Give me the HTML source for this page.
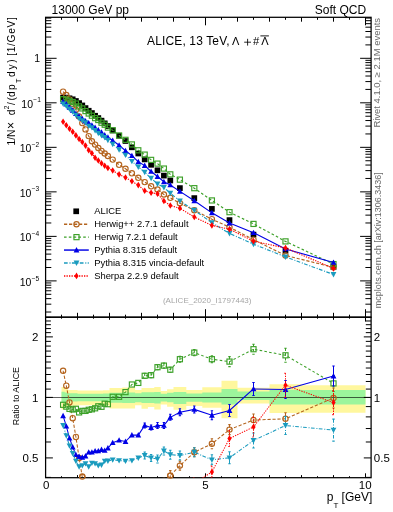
<!DOCTYPE html><html><head><meta charset="utf-8"><style>html,body{margin:0;padding:0;background:#fff;width:393px;height:512px;overflow:hidden}svg{display:block;will-change:transform}text{font-family:"Liberation Sans",sans-serif}</style></head><body>
<svg width="393" height="512" viewBox="0 0 393 512">
<defs><clipPath id="cu"><rect x="45.60" y="17.30" width="325.50" height="299.90"/></clipPath>
<clipPath id="cl"><rect x="45.60" y="317.20" width="325.50" height="160.50"/></clipPath></defs>
<text x="51.6" y="14.3" font-size="12" fill="#000">13000 GeV pp</text>
<text x="366.2" y="14.3" font-size="12" fill="#000" text-anchor="end">Soft QCD</text>
<text x="147.0" y="44.8" font-size="12" letter-spacing="0.14" fill="#000">ALICE, 13 TeV,</text>
<text x="235.6" y="44.9" font-size="11" font-family="Liberation Serif" text-anchor="middle" fill="#000">&#923;</text>
<path d="M244.2,42.2H251M247.6,38.8V45.6" stroke="#000" stroke-width="0.85" fill="none"/>
<text x="256.2" y="45.1" font-size="11.2" text-anchor="middle" fill="#000">#</text>
<text x="264.9" y="44.9" font-size="11" font-family="Liberation Serif" text-anchor="middle" fill="#000">&#923;</text>
<line x1="260.4" y1="35.9" x2="268.9" y2="35.9" stroke="#000" stroke-width="0.9"/>
<g clip-path="url(#cl)">
<path d="M61.50,387.10 64.70,387.10 L64.70,388.60 67.90,388.60 L67.90,389.90 71.10,389.90 L71.10,389.90 74.30,389.90 L74.30,389.90 77.50,389.90 L77.50,390.60 80.70,390.60 L80.70,390.60 83.90,390.60 L83.90,390.60 87.10,390.60 L87.10,390.60 90.30,390.60 L90.30,390.60 93.50,390.60 L93.50,390.60 96.70,390.60 L96.70,390.60 99.90,390.60 L99.90,390.60 103.10,390.60 L103.10,390.30 106.30,390.30 L106.30,390.30 109.50,390.30 L109.50,388.10 115.90,388.10 L115.90,388.10 122.30,388.10 L122.30,387.50 128.70,387.50 L128.70,387.50 135.10,387.50 L135.10,389.90 141.50,389.90 L141.50,388.10 147.90,388.10 L147.90,388.10 154.30,388.10 L154.30,386.90 160.70,386.90 L160.70,391.00 167.10,391.00 L167.10,389.20 173.50,389.20 L173.50,386.90 186.30,386.90 L186.30,390.00 202.30,390.00 L202.30,387.30 221.50,387.30 L221.50,380.70 237.50,380.70 L237.50,387.80 269.50,387.80 L269.50,384.30 301.50,384.30 L301.50,385.20 365.50,385.20 L365.50,412.70 301.50,412.70 L301.50,413.00 269.50,413.00 L269.50,403.60 237.50,403.60 L237.50,418.30 221.50,418.30 L221.50,407.70 202.30,407.70 L202.30,406.10 186.30,406.10 L186.30,409.70 173.50,409.70 L173.50,406.70 167.10,406.70 L167.10,404.40 160.70,404.40 L160.70,409.50 154.30,409.50 L154.30,407.00 147.90,407.00 L147.90,408.70 141.50,408.70 L141.50,405.30 135.10,405.30 L135.10,408.50 128.70,408.50 L128.70,408.50 122.30,408.50 L122.30,408.40 115.90,408.40 L115.90,408.40 109.50,408.40 L109.50,405.50 106.30,405.50 L106.30,405.50 103.10,405.50 L103.10,405.30 99.90,405.30 L99.90,405.30 96.70,405.30 L96.70,405.30 93.50,405.30 L93.50,405.30 90.30,405.30 L90.30,405.30 87.10,405.30 L87.10,405.30 83.90,405.30 L83.90,405.30 80.70,405.30 L80.70,405.30 77.50,405.30 L77.50,405.80 74.30,405.80 L74.30,405.80 71.10,405.80 L71.10,405.80 67.90,405.80 L67.90,407.00 64.70,407.00 L64.70,409.50 61.50,409.50Z" fill="#fff79e"/>
<path d="M61.50,391.70 64.70,391.70 L64.70,392.40 67.90,392.40 L67.90,393.20 71.10,393.20 L71.10,393.20 74.30,393.20 L74.30,393.20 77.50,393.20 L77.50,393.70 80.70,393.70 L80.70,393.70 83.90,393.70 L83.90,393.70 87.10,393.70 L87.10,393.70 90.30,393.70 L90.30,393.70 93.50,393.70 L93.50,393.70 96.70,393.70 L96.70,393.70 99.90,393.70 L99.90,393.70 103.10,393.70 L103.10,393.50 106.30,393.50 L106.30,393.50 109.50,393.50 L109.50,392.70 115.90,392.70 L115.90,392.70 122.30,392.70 L122.30,392.40 128.70,392.40 L128.70,392.40 135.10,392.40 L135.10,393.30 141.50,393.30 L141.50,392.30 147.90,392.30 L147.90,392.20 154.30,392.20 L154.30,392.00 160.70,392.00 L160.70,393.70 167.10,393.70 L167.10,392.70 173.50,392.70 L173.50,392.00 186.30,392.00 L186.30,393.50 202.30,393.50 L202.30,392.40 221.50,392.40 L221.50,389.10 237.50,389.10 L237.50,391.60 269.50,391.60 L269.50,389.80 301.50,389.80 L301.50,390.00 365.50,390.00 L365.50,404.50 301.50,404.50 L301.50,404.50 269.50,404.50 L269.50,400.00 237.50,400.00 L237.50,404.40 221.50,404.40 L221.50,402.60 202.30,402.60 L202.30,401.80 186.30,401.80 L186.30,403.90 173.50,403.90 L173.50,402.30 167.10,402.30 L167.10,401.40 160.70,401.40 L160.70,403.50 154.30,403.50 L154.30,402.90 147.90,402.90 L147.90,402.90 141.50,402.90 L141.50,402.20 135.10,402.20 L135.10,403.00 128.70,403.00 L128.70,403.00 122.30,403.00 L122.30,402.80 115.90,402.80 L115.90,402.80 109.50,402.80 L109.50,401.50 106.30,401.50 L106.30,401.50 103.10,401.50 L103.10,401.30 99.90,401.30 L99.90,401.30 96.70,401.30 L96.70,401.30 93.50,401.30 L93.50,401.30 90.30,401.30 L90.30,401.30 87.10,401.30 L87.10,401.30 83.90,401.30 L83.90,401.30 80.70,401.30 L80.70,401.30 77.50,401.30 L77.50,401.60 74.30,401.60 L74.30,401.60 71.10,401.60 L71.10,401.60 67.90,401.60 L67.90,402.30 64.70,402.30 L64.70,403.00 61.50,403.00Z" fill="#9cf59c"/>
<line x1="45.6" y1="397.4" x2="371.1" y2="397.4" stroke="#000" stroke-opacity="0.62" stroke-width="1.05"/>
</g>
<rect x="45.6" y="17.3" width="325.50" height="299.90" fill="none" stroke="#000" stroke-width="1.25"/>
<rect x="45.6" y="317.2" width="325.50" height="160.50" fill="none" stroke="#000" stroke-width="1.25"/>
<path d="M45.50,17.3v8.0 M45.50,317.2v-8.0 M45.50,317.2v4.4 M45.50,477.7v-4.4 M61.50,17.3v2.5 M61.50,317.2v-2.5 M61.50,317.2v1.5 M61.50,477.7v-1.5 M77.50,17.3v4.4 M77.50,317.2v-4.4 M77.50,317.2v2.6 M77.50,477.7v-2.6 M93.50,17.3v2.5 M93.50,317.2v-2.5 M93.50,317.2v1.5 M93.50,477.7v-1.5 M109.50,17.3v4.4 M109.50,317.2v-4.4 M109.50,317.2v2.6 M109.50,477.7v-2.6 M125.50,17.3v2.5 M125.50,317.2v-2.5 M125.50,317.2v1.5 M125.50,477.7v-1.5 M141.50,17.3v4.4 M141.50,317.2v-4.4 M141.50,317.2v2.6 M141.50,477.7v-2.6 M157.50,17.3v2.5 M157.50,317.2v-2.5 M157.50,317.2v1.5 M157.50,477.7v-1.5 M173.50,17.3v4.4 M173.50,317.2v-4.4 M173.50,317.2v2.6 M173.50,477.7v-2.6 M189.50,17.3v2.5 M189.50,317.2v-2.5 M189.50,317.2v1.5 M189.50,477.7v-1.5 M205.50,17.3v8.0 M205.50,317.2v-8.0 M205.50,317.2v4.4 M205.50,477.7v-4.4 M221.50,17.3v2.5 M221.50,317.2v-2.5 M221.50,317.2v1.5 M221.50,477.7v-1.5 M237.50,17.3v4.4 M237.50,317.2v-4.4 M237.50,317.2v2.6 M237.50,477.7v-2.6 M253.50,17.3v2.5 M253.50,317.2v-2.5 M253.50,317.2v1.5 M253.50,477.7v-1.5 M269.50,17.3v4.4 M269.50,317.2v-4.4 M269.50,317.2v2.6 M269.50,477.7v-2.6 M285.50,17.3v2.5 M285.50,317.2v-2.5 M285.50,317.2v1.5 M285.50,477.7v-1.5 M301.50,17.3v4.4 M301.50,317.2v-4.4 M301.50,317.2v2.6 M301.50,477.7v-2.6 M317.50,17.3v2.5 M317.50,317.2v-2.5 M317.50,317.2v1.5 M317.50,477.7v-1.5 M333.50,17.3v4.4 M333.50,317.2v-4.4 M333.50,317.2v2.6 M333.50,477.7v-2.6 M349.50,17.3v2.5 M349.50,317.2v-2.5 M349.50,317.2v1.5 M349.50,477.7v-1.5 M365.50,17.3v8.0 M365.50,317.2v-8.0 M365.50,317.2v4.4 M365.50,477.7v-4.4 M45.6,312.02h5.7 M371.1,312.02h-5.7 M45.6,304.18h5.7 M371.1,304.18h-5.7 M45.6,298.62h5.7 M371.1,298.62h-5.7 M45.6,294.30h5.7 M371.1,294.30h-5.7 M45.6,290.78h5.7 M371.1,290.78h-5.7 M45.6,287.80h5.7 M371.1,287.80h-5.7 M45.6,285.21h5.7 M371.1,285.21h-5.7 M45.6,282.94h5.7 M371.1,282.94h-5.7 M45.6,280.90h11.0 M371.1,280.90h-11.0 M45.6,267.50h5.7 M371.1,267.50h-5.7 M45.6,259.66h5.7 M371.1,259.66h-5.7 M45.6,254.10h5.7 M371.1,254.10h-5.7 M45.6,249.78h5.7 M371.1,249.78h-5.7 M45.6,246.26h5.7 M371.1,246.26h-5.7 M45.6,243.28h5.7 M371.1,243.28h-5.7 M45.6,240.69h5.7 M371.1,240.69h-5.7 M45.6,238.42h5.7 M371.1,238.42h-5.7 M45.6,236.38h11.0 M371.1,236.38h-11.0 M45.6,222.98h5.7 M371.1,222.98h-5.7 M45.6,215.14h5.7 M371.1,215.14h-5.7 M45.6,209.58h5.7 M371.1,209.58h-5.7 M45.6,205.26h5.7 M371.1,205.26h-5.7 M45.6,201.74h5.7 M371.1,201.74h-5.7 M45.6,198.76h5.7 M371.1,198.76h-5.7 M45.6,196.17h5.7 M371.1,196.17h-5.7 M45.6,193.90h5.7 M371.1,193.90h-5.7 M45.6,191.86h11.0 M371.1,191.86h-11.0 M45.6,178.46h5.7 M371.1,178.46h-5.7 M45.6,170.62h5.7 M371.1,170.62h-5.7 M45.6,165.06h5.7 M371.1,165.06h-5.7 M45.6,160.74h5.7 M371.1,160.74h-5.7 M45.6,157.22h5.7 M371.1,157.22h-5.7 M45.6,154.24h5.7 M371.1,154.24h-5.7 M45.6,151.65h5.7 M371.1,151.65h-5.7 M45.6,149.38h5.7 M371.1,149.38h-5.7 M45.6,147.34h11.0 M371.1,147.34h-11.0 M45.6,133.94h5.7 M371.1,133.94h-5.7 M45.6,126.10h5.7 M371.1,126.10h-5.7 M45.6,120.54h5.7 M371.1,120.54h-5.7 M45.6,116.22h5.7 M371.1,116.22h-5.7 M45.6,112.70h5.7 M371.1,112.70h-5.7 M45.6,109.72h5.7 M371.1,109.72h-5.7 M45.6,107.13h5.7 M371.1,107.13h-5.7 M45.6,104.86h5.7 M371.1,104.86h-5.7 M45.6,102.82h11.0 M371.1,102.82h-11.0 M45.6,89.42h5.7 M371.1,89.42h-5.7 M45.6,81.58h5.7 M371.1,81.58h-5.7 M45.6,76.02h5.7 M371.1,76.02h-5.7 M45.6,71.70h5.7 M371.1,71.70h-5.7 M45.6,68.18h5.7 M371.1,68.18h-5.7 M45.6,65.20h5.7 M371.1,65.20h-5.7 M45.6,62.61h5.7 M371.1,62.61h-5.7 M45.6,60.34h5.7 M371.1,60.34h-5.7 M45.6,58.30h11.0 M371.1,58.30h-11.0 M45.6,44.90h5.7 M371.1,44.90h-5.7 M45.6,37.06h5.7 M371.1,37.06h-5.7 M45.6,31.50h5.7 M371.1,31.50h-5.7 M45.6,27.18h5.7 M371.1,27.18h-5.7 M45.6,23.66h5.7 M371.1,23.66h-5.7 M45.6,20.68h5.7 M371.1,20.68h-5.7 M45.6,18.09h5.7 M371.1,18.09h-5.7 M45.6,477.39h5.3 M371.1,477.39h-5.3 M45.6,457.91h7.3 M371.1,457.91h-7.3 M45.6,441.99h5.3 M371.1,441.99h-5.3 M45.6,428.54h5.3 M371.1,428.54h-5.3 M45.6,416.88h5.3 M371.1,416.88h-5.3 M45.6,406.60h5.3 M371.1,406.60h-5.3 M45.6,397.40h7.3 M371.1,397.40h-7.3 M45.6,389.08h5.3 M371.1,389.08h-5.3 M45.6,381.48h5.3 M371.1,381.48h-5.3 M45.6,374.50h5.3 M371.1,374.50h-5.3 M45.6,368.03h5.3 M371.1,368.03h-5.3 M45.6,362.01h5.3 M371.1,362.01h-5.3 M45.6,356.37h5.3 M371.1,356.37h-5.3 M45.6,351.08h5.3 M371.1,351.08h-5.3 M45.6,346.09h5.3 M371.1,346.09h-5.3 M45.6,341.37h5.3 M371.1,341.37h-5.3 M45.6,336.89h7.3 M371.1,336.89h-7.3 M45.6,332.63h5.3 M371.1,332.63h-5.3 M45.6,328.57h5.3 M371.1,328.57h-5.3 M45.6,324.69h5.3 M371.1,324.69h-5.3 M45.6,320.98h5.3 M371.1,320.98h-5.3 M45.6,317.41h5.3 M371.1,317.41h-5.3" stroke="#000" stroke-width="1" fill="none"/>
<text x="365.20" y="488.6" font-size="11.5" text-anchor="middle">10</text>
<text x="46.10" y="488.9" font-size="11.5" text-anchor="middle">0</text>
<text x="205.50" y="488.8" font-size="11.5" text-anchor="middle">5</text>
<text x="372.3" y="501.2" font-size="12" text-anchor="end">p<tspan font-size="8" dy="6.4">T</tspan><tspan dy="-6.4"> [GeV]</tspan></text>
<text x="40.2" y="62.4" font-size="10.5" text-anchor="end">1</text>
<text x="33.00" y="107.82" font-size="10.5" text-anchor="end">10</text>
<text x="33.30" y="102.42" font-size="6.6">&#8722;1</text>
<text x="31.40" y="152.34" font-size="10.5" text-anchor="end">10</text>
<text x="31.70" y="146.94" font-size="6.6">&#8722;2</text>
<text x="31.40" y="196.86" font-size="10.5" text-anchor="end">10</text>
<text x="31.70" y="191.46" font-size="6.6">&#8722;3</text>
<text x="31.40" y="241.38" font-size="10.5" text-anchor="end">10</text>
<text x="31.70" y="235.98" font-size="6.6">&#8722;4</text>
<text x="31.40" y="285.90" font-size="10.5" text-anchor="end">10</text>
<text x="31.70" y="280.50" font-size="6.6">&#8722;5</text>
<text x="38.4" y="341.39" font-size="11.5" text-anchor="end">2</text>
<text x="373.8" y="341.09" font-size="11.5">2</text>
<text x="38.4" y="401.90" font-size="11.5" text-anchor="end">1</text>
<text x="373.8" y="401.60" font-size="11.5">1</text>
<text x="38.4" y="462.41" font-size="11.5" text-anchor="end">0.5</text>
<text x="373.8" y="462.11" font-size="11.5">0.5</text>
<g transform="translate(15.1,145.6) rotate(-90)">
<text x="0.0" y="0" font-size="10.3">1/N</text>
<text x="16.6" y="0.3" font-size="12.2">&#215;</text>
<text x="30.3" y="0" font-size="10.3">d</text>
<text x="36.3" y="-5.8" font-size="6.6">2</text>
<text x="40.6" y="0" font-size="10.3">/</text>
<text x="45.0" y="0" font-size="10.3">(</text>
<text x="48.7" y="0" font-size="10.3">d</text>
<text x="55.5" y="0" font-size="10.3">p</text>
<text x="62.6" y="5.9" font-size="7.2">T</text>
<text x="68.7" y="0" font-size="10.3" textLength="17.6" lengthAdjust="spacing">dy)</text>
<text x="89.9" y="0" font-size="10.3" textLength="38.5" lengthAdjust="spacing">[1/GeV]</text>
</g>
<text transform="translate(18.9,425.2) rotate(-90)" font-size="8.9" letter-spacing="0">Ratio to ALICE</text>
<text transform="translate(380,127.6) rotate(-90)" font-size="8.6" fill="#6a6a6a" textLength="109.6" lengthAdjust="spacingAndGlyphs">Rivet 4.1.0, &#8805; 2.1M events</text>
<text transform="translate(380.8,308.2) rotate(-90)" font-size="9" fill="#6a6a6a" textLength="136" lengthAdjust="spacingAndGlyphs">mcplots.cern.ch [arXiv:1306.3436]</text>
<text x="207.2" y="302.5" font-size="8" fill="#a6a6a6" text-anchor="middle">(ALICE_2020_I1797443)</text>
<g clip-path="url(#cu)">
<rect x="60.25" y="94.75" width="5.7" height="5.7" fill="#000"/>
<rect x="63.45" y="94.75" width="5.7" height="5.7" fill="#000"/>
<rect x="66.65" y="95.45" width="5.7" height="5.7" fill="#000"/>
<rect x="69.85" y="96.45" width="5.7" height="5.7" fill="#000"/>
<rect x="73.05" y="98.15" width="5.7" height="5.7" fill="#000"/>
<rect x="76.25" y="100.25" width="5.7" height="5.7" fill="#000"/>
<rect x="79.45" y="102.60" width="5.7" height="5.7" fill="#000"/>
<rect x="82.65" y="105.25" width="5.7" height="5.7" fill="#000"/>
<rect x="85.85" y="107.90" width="5.7" height="5.7" fill="#000"/>
<rect x="89.05" y="110.20" width="5.7" height="5.7" fill="#000"/>
<rect x="92.25" y="112.90" width="5.7" height="5.7" fill="#000"/>
<rect x="95.45" y="115.20" width="5.7" height="5.7" fill="#000"/>
<rect x="98.65" y="117.80" width="5.7" height="5.7" fill="#000"/>
<rect x="101.85" y="120.50" width="5.7" height="5.7" fill="#000"/>
<rect x="105.05" y="123.20" width="5.7" height="5.7" fill="#000"/>
<rect x="109.85" y="127.55" width="5.7" height="5.7" fill="#000"/>
<rect x="116.25" y="132.85" width="5.7" height="5.7" fill="#000"/>
<rect x="122.65" y="138.15" width="5.7" height="5.7" fill="#000"/>
<rect x="129.05" y="144.45" width="5.7" height="5.7" fill="#000"/>
<rect x="135.45" y="150.65" width="5.7" height="5.7" fill="#000"/>
<rect x="141.85" y="156.55" width="5.7" height="5.7" fill="#000"/>
<rect x="148.25" y="161.95" width="5.7" height="5.7" fill="#000"/>
<rect x="154.65" y="167.45" width="5.7" height="5.7" fill="#000"/>
<rect x="161.05" y="172.75" width="5.7" height="5.7" fill="#000"/>
<rect x="167.45" y="177.65" width="5.7" height="5.7" fill="#000"/>
<rect x="177.05" y="185.25" width="5.7" height="5.7" fill="#000"/>
<rect x="191.45" y="195.25" width="5.7" height="5.7" fill="#000"/>
<rect x="209.05" y="206.05" width="5.7" height="5.7" fill="#000"/>
<rect x="226.65" y="217.25" width="5.7" height="5.7" fill="#000"/>
<rect x="250.65" y="231.75" width="5.7" height="5.7" fill="#000"/>
<rect x="282.65" y="247.85" width="5.7" height="5.7" fill="#000"/>
<rect x="330.65" y="264.35" width="5.7" height="5.7" fill="#000"/>
<polyline points="63.10,91.70 66.30,95.00 69.50,99.40 72.70,103.90 75.90,109.75 79.10,116.50 82.30,123.10 85.50,129.40 88.70,136.10 91.90,141.20 95.10,144.60 98.30,148.00 101.50,150.90 104.70,153.50 107.90,156.00 112.70,159.60 119.10,164.80 125.50,168.70 131.90,173.30 138.30,177.80 144.70,182.10 151.10,186.30 157.50,189.50 163.90,194.50 170.30,197.82 179.90,203.21 194.30,210.24 211.90,219.18 229.50,227.23 253.50,239.61 285.50,255.44 333.50,267.33" fill="none" stroke="#b4641e" stroke-width="1.15" stroke-dasharray="3.2,1.8"/>
<circle cx="63.10" cy="91.70" r="2.65" fill="none" stroke="#b4641e" stroke-width="1.15"/>
<circle cx="66.30" cy="95.00" r="2.65" fill="none" stroke="#b4641e" stroke-width="1.15"/>
<circle cx="69.50" cy="99.40" r="2.65" fill="none" stroke="#b4641e" stroke-width="1.15"/>
<circle cx="72.70" cy="103.90" r="2.65" fill="none" stroke="#b4641e" stroke-width="1.15"/>
<circle cx="75.90" cy="109.75" r="2.65" fill="none" stroke="#b4641e" stroke-width="1.15"/>
<circle cx="79.10" cy="116.50" r="2.65" fill="none" stroke="#b4641e" stroke-width="1.15"/>
<circle cx="82.30" cy="123.10" r="2.65" fill="none" stroke="#b4641e" stroke-width="1.15"/>
<circle cx="85.50" cy="129.40" r="2.65" fill="none" stroke="#b4641e" stroke-width="1.15"/>
<circle cx="88.70" cy="136.10" r="2.65" fill="none" stroke="#b4641e" stroke-width="1.15"/>
<circle cx="91.90" cy="141.20" r="2.65" fill="none" stroke="#b4641e" stroke-width="1.15"/>
<circle cx="95.10" cy="144.60" r="2.65" fill="none" stroke="#b4641e" stroke-width="1.15"/>
<circle cx="98.30" cy="148.00" r="2.65" fill="none" stroke="#b4641e" stroke-width="1.15"/>
<circle cx="101.50" cy="150.90" r="2.65" fill="none" stroke="#b4641e" stroke-width="1.15"/>
<circle cx="104.70" cy="153.50" r="2.65" fill="none" stroke="#b4641e" stroke-width="1.15"/>
<circle cx="107.90" cy="156.00" r="2.65" fill="none" stroke="#b4641e" stroke-width="1.15"/>
<circle cx="112.70" cy="159.60" r="2.65" fill="none" stroke="#b4641e" stroke-width="1.15"/>
<circle cx="119.10" cy="164.80" r="2.65" fill="none" stroke="#b4641e" stroke-width="1.15"/>
<circle cx="125.50" cy="168.70" r="2.65" fill="none" stroke="#b4641e" stroke-width="1.15"/>
<circle cx="131.90" cy="173.30" r="2.65" fill="none" stroke="#b4641e" stroke-width="1.15"/>
<circle cx="138.30" cy="177.80" r="2.65" fill="none" stroke="#b4641e" stroke-width="1.15"/>
<circle cx="144.70" cy="182.10" r="2.65" fill="none" stroke="#b4641e" stroke-width="1.15"/>
<circle cx="151.10" cy="186.30" r="2.65" fill="none" stroke="#b4641e" stroke-width="1.15"/>
<circle cx="157.50" cy="189.50" r="2.65" fill="none" stroke="#b4641e" stroke-width="1.15"/>
<circle cx="163.90" cy="194.50" r="2.65" fill="none" stroke="#b4641e" stroke-width="1.15"/>
<circle cx="170.30" cy="197.82" r="2.65" fill="none" stroke="#b4641e" stroke-width="1.15"/>
<circle cx="179.90" cy="203.21" r="2.65" fill="none" stroke="#b4641e" stroke-width="1.15"/>
<circle cx="194.30" cy="210.24" r="2.65" fill="none" stroke="#b4641e" stroke-width="1.15"/>
<circle cx="211.90" cy="219.18" r="2.65" fill="none" stroke="#b4641e" stroke-width="1.15"/>
<circle cx="229.50" cy="227.23" r="2.65" fill="none" stroke="#b4641e" stroke-width="1.15"/>
<circle cx="253.50" cy="239.61" r="2.65" fill="none" stroke="#b4641e" stroke-width="1.15"/>
<circle cx="285.50" cy="255.44" r="2.65" fill="none" stroke="#b4641e" stroke-width="1.15"/>
<circle cx="333.50" cy="267.33" r="2.65" fill="none" stroke="#b4641e" stroke-width="1.15"/>
<polyline points="63.10,99.24 66.30,99.64 69.50,100.85 72.70,101.98 75.90,103.53 79.10,106.42 82.30,108.44 85.50,111.09 88.70,113.50 91.90,115.69 95.10,118.16 98.30,120.02 101.50,122.73 104.70,124.75 107.90,127.56 112.70,130.27 119.10,135.57 125.50,139.83 131.90,144.44 138.30,150.29 144.70,154.62 151.10,159.88 157.50,163.61 163.90,168.56 170.30,174.36 179.90,179.64 194.30,188.18 211.90,200.44 229.50,212.17 253.50,223.92 285.50,241.38 333.50,264.10" fill="none" stroke="#3ca028" stroke-width="1.15" stroke-dasharray="2.6,2.2"/>
<rect x="60.55" y="96.69" width="5.1" height="5.1" fill="none" stroke="#3ca028" stroke-width="1.15"/>
<rect x="63.75" y="97.09" width="5.1" height="5.1" fill="none" stroke="#3ca028" stroke-width="1.15"/>
<rect x="66.95" y="98.30" width="5.1" height="5.1" fill="none" stroke="#3ca028" stroke-width="1.15"/>
<rect x="70.15" y="99.43" width="5.1" height="5.1" fill="none" stroke="#3ca028" stroke-width="1.15"/>
<rect x="73.35" y="100.98" width="5.1" height="5.1" fill="none" stroke="#3ca028" stroke-width="1.15"/>
<rect x="76.55" y="103.87" width="5.1" height="5.1" fill="none" stroke="#3ca028" stroke-width="1.15"/>
<rect x="79.75" y="105.89" width="5.1" height="5.1" fill="none" stroke="#3ca028" stroke-width="1.15"/>
<rect x="82.95" y="108.54" width="5.1" height="5.1" fill="none" stroke="#3ca028" stroke-width="1.15"/>
<rect x="86.15" y="110.95" width="5.1" height="5.1" fill="none" stroke="#3ca028" stroke-width="1.15"/>
<rect x="89.35" y="113.14" width="5.1" height="5.1" fill="none" stroke="#3ca028" stroke-width="1.15"/>
<rect x="92.55" y="115.61" width="5.1" height="5.1" fill="none" stroke="#3ca028" stroke-width="1.15"/>
<rect x="95.75" y="117.47" width="5.1" height="5.1" fill="none" stroke="#3ca028" stroke-width="1.15"/>
<rect x="98.95" y="120.18" width="5.1" height="5.1" fill="none" stroke="#3ca028" stroke-width="1.15"/>
<rect x="102.15" y="122.20" width="5.1" height="5.1" fill="none" stroke="#3ca028" stroke-width="1.15"/>
<rect x="105.35" y="125.01" width="5.1" height="5.1" fill="none" stroke="#3ca028" stroke-width="1.15"/>
<rect x="110.15" y="127.72" width="5.1" height="5.1" fill="none" stroke="#3ca028" stroke-width="1.15"/>
<rect x="116.55" y="133.02" width="5.1" height="5.1" fill="none" stroke="#3ca028" stroke-width="1.15"/>
<rect x="122.95" y="137.28" width="5.1" height="5.1" fill="none" stroke="#3ca028" stroke-width="1.15"/>
<rect x="129.35" y="141.89" width="5.1" height="5.1" fill="none" stroke="#3ca028" stroke-width="1.15"/>
<rect x="135.75" y="147.74" width="5.1" height="5.1" fill="none" stroke="#3ca028" stroke-width="1.15"/>
<rect x="142.15" y="152.07" width="5.1" height="5.1" fill="none" stroke="#3ca028" stroke-width="1.15"/>
<rect x="148.55" y="157.33" width="5.1" height="5.1" fill="none" stroke="#3ca028" stroke-width="1.15"/>
<rect x="154.95" y="161.06" width="5.1" height="5.1" fill="none" stroke="#3ca028" stroke-width="1.15"/>
<rect x="161.35" y="166.01" width="5.1" height="5.1" fill="none" stroke="#3ca028" stroke-width="1.15"/>
<rect x="167.75" y="171.81" width="5.1" height="5.1" fill="none" stroke="#3ca028" stroke-width="1.15"/>
<rect x="177.35" y="177.09" width="5.1" height="5.1" fill="none" stroke="#3ca028" stroke-width="1.15"/>
<rect x="191.75" y="185.63" width="5.1" height="5.1" fill="none" stroke="#3ca028" stroke-width="1.15"/>
<rect x="209.35" y="197.89" width="5.1" height="5.1" fill="none" stroke="#3ca028" stroke-width="1.15"/>
<rect x="226.95" y="209.62" width="5.1" height="5.1" fill="none" stroke="#3ca028" stroke-width="1.15"/>
<rect x="250.95" y="221.37" width="5.1" height="5.1" fill="none" stroke="#3ca028" stroke-width="1.15"/>
<rect x="282.95" y="238.83" width="5.1" height="5.1" fill="none" stroke="#3ca028" stroke-width="1.15"/>
<rect x="330.95" y="261.55" width="5.1" height="5.1" fill="none" stroke="#3ca028" stroke-width="1.15"/>
<polyline points="63.10,101.68 66.30,103.98 69.50,107.34 72.70,110.29 75.90,113.69 79.10,116.19 82.30,118.72 85.50,121.08 88.70,122.89 91.90,125.19 95.10,127.60 98.30,129.90 101.50,132.21 104.70,135.09 107.90,137.26 112.70,140.43 119.10,145.18 125.50,150.77 131.90,155.65 138.30,161.85 144.70,165.60 151.10,171.47 157.50,176.50 163.90,181.80 170.30,184.91 179.90,191.38 194.30,200.76 211.90,212.86 229.50,223.00 253.50,232.72 285.50,248.95 333.50,262.46" fill="none" stroke="#0000e6" stroke-width="1.15"/>
<path d="M63.10,98.68 L66.00,104.08 L60.20,104.08 Z" fill="#0000e6"/>
<path d="M66.30,100.98 L69.20,106.38 L63.40,106.38 Z" fill="#0000e6"/>
<path d="M69.50,104.34 L72.40,109.74 L66.60,109.74 Z" fill="#0000e6"/>
<path d="M72.70,107.29 L75.60,112.69 L69.80,112.69 Z" fill="#0000e6"/>
<path d="M75.90,110.69 L78.80,116.09 L73.00,116.09 Z" fill="#0000e6"/>
<path d="M79.10,113.19 L82.00,118.59 L76.20,118.59 Z" fill="#0000e6"/>
<path d="M82.30,115.72 L85.20,121.12 L79.40,121.12 Z" fill="#0000e6"/>
<path d="M85.50,118.08 L88.40,123.48 L82.60,123.48 Z" fill="#0000e6"/>
<path d="M88.70,119.89 L91.60,125.29 L85.80,125.29 Z" fill="#0000e6"/>
<path d="M91.90,122.19 L94.80,127.59 L89.00,127.59 Z" fill="#0000e6"/>
<path d="M95.10,124.60 L98.00,130.00 L92.20,130.00 Z" fill="#0000e6"/>
<path d="M98.30,126.90 L101.20,132.30 L95.40,132.30 Z" fill="#0000e6"/>
<path d="M101.50,129.21 L104.40,134.61 L98.60,134.61 Z" fill="#0000e6"/>
<path d="M104.70,132.09 L107.60,137.49 L101.80,137.49 Z" fill="#0000e6"/>
<path d="M107.90,134.26 L110.80,139.66 L105.00,139.66 Z" fill="#0000e6"/>
<path d="M112.70,137.43 L115.60,142.83 L109.80,142.83 Z" fill="#0000e6"/>
<path d="M119.10,142.18 L122.00,147.58 L116.20,147.58 Z" fill="#0000e6"/>
<path d="M125.50,147.77 L128.40,153.17 L122.60,153.17 Z" fill="#0000e6"/>
<path d="M131.90,152.65 L134.80,158.05 L129.00,158.05 Z" fill="#0000e6"/>
<path d="M138.30,158.85 L141.20,164.25 L135.40,164.25 Z" fill="#0000e6"/>
<path d="M144.70,162.60 L147.60,168.00 L141.80,168.00 Z" fill="#0000e6"/>
<path d="M151.10,168.47 L154.00,173.87 L148.20,173.87 Z" fill="#0000e6"/>
<path d="M157.50,173.50 L160.40,178.90 L154.60,178.90 Z" fill="#0000e6"/>
<path d="M163.90,178.80 L166.80,184.20 L161.00,184.20 Z" fill="#0000e6"/>
<path d="M170.30,181.91 L173.20,187.31 L167.40,187.31 Z" fill="#0000e6"/>
<path d="M179.90,188.38 L182.80,193.78 L177.00,193.78 Z" fill="#0000e6"/>
<path d="M194.30,197.76 L197.20,203.16 L191.40,203.16 Z" fill="#0000e6"/>
<path d="M211.90,209.86 L214.80,215.26 L209.00,215.26 Z" fill="#0000e6"/>
<path d="M229.50,220.00 L232.40,225.40 L226.60,225.40 Z" fill="#0000e6"/>
<path d="M253.50,229.72 L256.40,235.12 L250.60,235.12 Z" fill="#0000e6"/>
<path d="M285.50,245.95 L288.40,251.35 L282.60,251.35 Z" fill="#0000e6"/>
<path d="M333.50,259.46 L336.40,264.86 L330.60,264.86 Z" fill="#0000e6"/>
<polyline points="63.10,103.80 66.30,106.06 69.50,109.02 72.70,111.70 75.90,115.11 79.10,118.45 82.30,120.56 85.50,122.76 88.70,126.10 91.90,127.60 95.10,130.41 98.30,133.16 101.50,135.60 104.70,137.46 107.90,140.14 112.70,144.22 119.10,149.70 125.50,155.11 131.90,161.30 138.30,166.92 144.70,172.27 151.10,178.22 157.50,183.94 163.90,187.45 170.30,193.19 179.90,200.97 194.30,210.24 211.90,222.72 229.50,233.48 253.50,244.15 285.50,256.92 333.50,274.44" fill="none" stroke="#1a9bbe" stroke-width="1.15" stroke-dasharray="3.7,1.8,1.0,1.4"/>
<path d="M63.10,106.80 L66.00,101.40 L60.20,101.40 Z" fill="#1a9bbe"/>
<path d="M66.30,109.06 L69.20,103.66 L63.40,103.66 Z" fill="#1a9bbe"/>
<path d="M69.50,112.02 L72.40,106.62 L66.60,106.62 Z" fill="#1a9bbe"/>
<path d="M72.70,114.70 L75.60,109.30 L69.80,109.30 Z" fill="#1a9bbe"/>
<path d="M75.90,118.11 L78.80,112.71 L73.00,112.71 Z" fill="#1a9bbe"/>
<path d="M79.10,121.45 L82.00,116.05 L76.20,116.05 Z" fill="#1a9bbe"/>
<path d="M82.30,123.56 L85.20,118.16 L79.40,118.16 Z" fill="#1a9bbe"/>
<path d="M85.50,125.76 L88.40,120.36 L82.60,120.36 Z" fill="#1a9bbe"/>
<path d="M88.70,129.10 L91.60,123.70 L85.80,123.70 Z" fill="#1a9bbe"/>
<path d="M91.90,130.60 L94.80,125.20 L89.00,125.20 Z" fill="#1a9bbe"/>
<path d="M95.10,133.41 L98.00,128.01 L92.20,128.01 Z" fill="#1a9bbe"/>
<path d="M98.30,136.16 L101.20,130.76 L95.40,130.76 Z" fill="#1a9bbe"/>
<path d="M101.50,138.60 L104.40,133.20 L98.60,133.20 Z" fill="#1a9bbe"/>
<path d="M104.70,140.46 L107.60,135.06 L101.80,135.06 Z" fill="#1a9bbe"/>
<path d="M107.90,143.14 L110.80,137.74 L105.00,137.74 Z" fill="#1a9bbe"/>
<path d="M112.70,147.22 L115.60,141.82 L109.80,141.82 Z" fill="#1a9bbe"/>
<path d="M119.10,152.70 L122.00,147.30 L116.20,147.30 Z" fill="#1a9bbe"/>
<path d="M125.50,158.11 L128.40,152.71 L122.60,152.71 Z" fill="#1a9bbe"/>
<path d="M131.90,164.30 L134.80,158.90 L129.00,158.90 Z" fill="#1a9bbe"/>
<path d="M138.30,169.92 L141.20,164.52 L135.40,164.52 Z" fill="#1a9bbe"/>
<path d="M144.70,175.27 L147.60,169.87 L141.80,169.87 Z" fill="#1a9bbe"/>
<path d="M151.10,181.22 L154.00,175.82 L148.20,175.82 Z" fill="#1a9bbe"/>
<path d="M157.50,186.94 L160.40,181.54 L154.60,181.54 Z" fill="#1a9bbe"/>
<path d="M163.90,190.45 L166.80,185.05 L161.00,185.05 Z" fill="#1a9bbe"/>
<path d="M170.30,196.19 L173.20,190.79 L167.40,190.79 Z" fill="#1a9bbe"/>
<path d="M179.90,203.97 L182.80,198.57 L177.00,198.57 Z" fill="#1a9bbe"/>
<path d="M194.30,213.24 L197.20,207.84 L191.40,207.84 Z" fill="#1a9bbe"/>
<path d="M211.90,225.72 L214.80,220.32 L209.00,220.32 Z" fill="#1a9bbe"/>
<path d="M229.50,236.48 L232.40,231.08 L226.60,231.08 Z" fill="#1a9bbe"/>
<path d="M253.50,247.15 L256.40,241.75 L250.60,241.75 Z" fill="#1a9bbe"/>
<path d="M285.50,259.92 L288.40,254.52 L282.60,254.52 Z" fill="#1a9bbe"/>
<path d="M333.50,277.44 L336.40,272.04 L330.60,272.04 Z" fill="#1a9bbe"/>
<polyline points="63.10,121.70 66.30,125.20 69.50,128.80 72.70,131.80 75.90,135.40 79.10,139.00 82.30,142.00 85.50,145.60 88.70,150.20 91.90,153.20 95.10,157.80 98.30,160.50 101.50,163.20 104.70,165.80 107.90,168.00 112.70,170.50 119.10,174.40 125.50,177.50 131.90,181.30 138.30,185.10 144.70,190.80 151.10,192.80 157.50,193.70 163.90,201.00 170.30,205.50 179.90,208.30 194.30,217.06 211.90,225.42 229.50,229.20 253.50,241.16 285.50,248.00 333.50,268.35" fill="none" stroke="#ff0000" stroke-width="1.15" stroke-dasharray="1.3,1.2"/>
<path d="M63.10,118.40 L65.20,121.70 L63.10,125.00 L61.00,121.70 Z" fill="#ff0000"/>
<path d="M66.30,121.90 L68.40,125.20 L66.30,128.50 L64.20,125.20 Z" fill="#ff0000"/>
<path d="M69.50,125.50 L71.60,128.80 L69.50,132.10 L67.40,128.80 Z" fill="#ff0000"/>
<path d="M72.70,128.50 L74.80,131.80 L72.70,135.10 L70.60,131.80 Z" fill="#ff0000"/>
<path d="M75.90,132.10 L78.00,135.40 L75.90,138.70 L73.80,135.40 Z" fill="#ff0000"/>
<path d="M79.10,135.70 L81.20,139.00 L79.10,142.30 L77.00,139.00 Z" fill="#ff0000"/>
<path d="M82.30,138.70 L84.40,142.00 L82.30,145.30 L80.20,142.00 Z" fill="#ff0000"/>
<path d="M85.50,142.30 L87.60,145.60 L85.50,148.90 L83.40,145.60 Z" fill="#ff0000"/>
<path d="M88.70,146.90 L90.80,150.20 L88.70,153.50 L86.60,150.20 Z" fill="#ff0000"/>
<path d="M91.90,149.90 L94.00,153.20 L91.90,156.50 L89.80,153.20 Z" fill="#ff0000"/>
<path d="M95.10,154.50 L97.20,157.80 L95.10,161.10 L93.00,157.80 Z" fill="#ff0000"/>
<path d="M98.30,157.20 L100.40,160.50 L98.30,163.80 L96.20,160.50 Z" fill="#ff0000"/>
<path d="M101.50,159.90 L103.60,163.20 L101.50,166.50 L99.40,163.20 Z" fill="#ff0000"/>
<path d="M104.70,162.50 L106.80,165.80 L104.70,169.10 L102.60,165.80 Z" fill="#ff0000"/>
<path d="M107.90,164.70 L110.00,168.00 L107.90,171.30 L105.80,168.00 Z" fill="#ff0000"/>
<path d="M112.70,167.20 L114.80,170.50 L112.70,173.80 L110.60,170.50 Z" fill="#ff0000"/>
<path d="M119.10,171.10 L121.20,174.40 L119.10,177.70 L117.00,174.40 Z" fill="#ff0000"/>
<path d="M125.50,174.20 L127.60,177.50 L125.50,180.80 L123.40,177.50 Z" fill="#ff0000"/>
<path d="M131.90,178.00 L134.00,181.30 L131.90,184.60 L129.80,181.30 Z" fill="#ff0000"/>
<path d="M138.30,181.80 L140.40,185.10 L138.30,188.40 L136.20,185.10 Z" fill="#ff0000"/>
<path d="M144.70,187.50 L146.80,190.80 L144.70,194.10 L142.60,190.80 Z" fill="#ff0000"/>
<path d="M151.10,189.50 L153.20,192.80 L151.10,196.10 L149.00,192.80 Z" fill="#ff0000"/>
<path d="M157.50,190.40 L159.60,193.70 L157.50,197.00 L155.40,193.70 Z" fill="#ff0000"/>
<path d="M163.90,197.70 L166.00,201.00 L163.90,204.30 L161.80,201.00 Z" fill="#ff0000"/>
<path d="M170.30,202.20 L172.40,205.50 L170.30,208.80 L168.20,205.50 Z" fill="#ff0000"/>
<path d="M179.90,205.00 L182.00,208.30 L179.90,211.60 L177.80,208.30 Z" fill="#ff0000"/>
<path d="M194.30,213.76 L196.40,217.06 L194.30,220.36 L192.20,217.06 Z" fill="#ff0000"/>
<path d="M211.90,222.12 L214.00,225.42 L211.90,228.72 L209.80,225.42 Z" fill="#ff0000"/>
<path d="M229.50,225.90 L231.60,229.20 L229.50,232.50 L227.40,229.20 Z" fill="#ff0000"/>
<path d="M253.50,237.86 L255.60,241.16 L253.50,244.46 L251.40,241.16 Z" fill="#ff0000"/>
<path d="M285.50,244.70 L287.60,248.00 L285.50,251.30 L283.40,248.00 Z" fill="#ff0000"/>
<path d="M333.50,265.05 L335.60,268.35 L333.50,271.65 L331.40,268.35 Z" fill="#ff0000"/>
</g>
<g clip-path="url(#cl)">
<polyline points="63.10,370.76 66.30,385.66 69.50,402.37 72.70,418.17 75.90,436.90 79.10,457.90 82.30,477.09 85.50,493.57 88.70,511.85 91.90,524.49 95.10,527.65 98.30,532.62 101.50,533.97 104.70,533.52 107.90,532.62 112.70,529.23 119.10,528.78 125.50,522.46 131.90,514.79 138.30,507.11 144.70,499.89 151.10,494.47 157.50,484.08 163.90,482.73 170.30,475.60 179.90,465.60 194.30,452.20 211.90,443.80 229.50,429.60 253.50,420.00 285.50,418.80 333.50,398.00" fill="none" stroke="#b4641e" stroke-width="1.05" stroke-dasharray="3.2,1.8"/>
<path d="M144.70,496.39V503.39M143.50,496.39h2.4M143.50,503.39h2.4 M151.10,490.97V497.97M149.90,490.97h2.4M149.90,497.97h2.4 M157.50,480.08V488.08M156.30,480.08h2.4M156.30,488.08h2.4 M163.90,478.23V487.23M162.70,478.23h2.4M162.70,487.23h2.4 M170.30,470.60V480.60M169.10,470.60h2.4M169.10,480.60h2.4 M179.90,461.10V470.10M178.70,461.10h2.4M178.70,470.10h2.4 M194.30,447.70V456.70M193.10,447.70h2.4M193.10,456.70h2.4 M211.90,438.80V448.80M210.70,438.80h2.4M210.70,448.80h2.4 M229.50,424.60V434.60M228.30,424.60h2.4M228.30,434.60h2.4 M253.50,414.00V426.00M252.30,414.00h2.4M252.30,426.00h2.4 M285.50,412.80V424.80M284.30,412.80h2.4M284.30,424.80h2.4 M333.50,388.00V408.00M332.30,388.00h2.4M332.30,408.00h2.4" stroke="#b4641e" stroke-width="1.05" fill="none" stroke-dasharray="3.2,1.8"/>
<circle cx="63.10" cy="370.76" r="2.65" fill="none" stroke="#b4641e" stroke-width="1.15"/>
<circle cx="66.30" cy="385.66" r="2.65" fill="none" stroke="#b4641e" stroke-width="1.15"/>
<circle cx="69.50" cy="402.37" r="2.65" fill="none" stroke="#b4641e" stroke-width="1.15"/>
<circle cx="72.70" cy="418.17" r="2.65" fill="none" stroke="#b4641e" stroke-width="1.15"/>
<circle cx="75.90" cy="436.90" r="2.65" fill="none" stroke="#b4641e" stroke-width="1.15"/>
<circle cx="79.10" cy="457.90" r="2.65" fill="none" stroke="#b4641e" stroke-width="1.15"/>
<circle cx="82.30" cy="477.09" r="2.65" fill="none" stroke="#b4641e" stroke-width="1.15"/>
<circle cx="85.50" cy="493.57" r="2.65" fill="none" stroke="#b4641e" stroke-width="1.15"/>
<circle cx="88.70" cy="511.85" r="2.65" fill="none" stroke="#b4641e" stroke-width="1.15"/>
<circle cx="91.90" cy="524.49" r="2.65" fill="none" stroke="#b4641e" stroke-width="1.15"/>
<circle cx="95.10" cy="527.65" r="2.65" fill="none" stroke="#b4641e" stroke-width="1.15"/>
<circle cx="98.30" cy="532.62" r="2.65" fill="none" stroke="#b4641e" stroke-width="1.15"/>
<circle cx="101.50" cy="533.97" r="2.65" fill="none" stroke="#b4641e" stroke-width="1.15"/>
<circle cx="104.70" cy="533.52" r="2.65" fill="none" stroke="#b4641e" stroke-width="1.15"/>
<circle cx="107.90" cy="532.62" r="2.65" fill="none" stroke="#b4641e" stroke-width="1.15"/>
<circle cx="112.70" cy="529.23" r="2.65" fill="none" stroke="#b4641e" stroke-width="1.15"/>
<circle cx="119.10" cy="528.78" r="2.65" fill="none" stroke="#b4641e" stroke-width="1.15"/>
<circle cx="125.50" cy="522.46" r="2.65" fill="none" stroke="#b4641e" stroke-width="1.15"/>
<circle cx="131.90" cy="514.79" r="2.65" fill="none" stroke="#b4641e" stroke-width="1.15"/>
<circle cx="138.30" cy="507.11" r="2.65" fill="none" stroke="#b4641e" stroke-width="1.15"/>
<circle cx="144.70" cy="499.89" r="2.65" fill="none" stroke="#b4641e" stroke-width="1.15"/>
<circle cx="151.10" cy="494.47" r="2.65" fill="none" stroke="#b4641e" stroke-width="1.15"/>
<circle cx="157.50" cy="484.08" r="2.65" fill="none" stroke="#b4641e" stroke-width="1.15"/>
<circle cx="163.90" cy="482.73" r="2.65" fill="none" stroke="#b4641e" stroke-width="1.15"/>
<circle cx="170.30" cy="475.60" r="2.65" fill="none" stroke="#b4641e" stroke-width="1.15"/>
<circle cx="179.90" cy="465.60" r="2.65" fill="none" stroke="#b4641e" stroke-width="1.15"/>
<circle cx="194.30" cy="452.20" r="2.65" fill="none" stroke="#b4641e" stroke-width="1.15"/>
<circle cx="211.90" cy="443.80" r="2.65" fill="none" stroke="#b4641e" stroke-width="1.15"/>
<circle cx="229.50" cy="429.60" r="2.65" fill="none" stroke="#b4641e" stroke-width="1.15"/>
<circle cx="253.50" cy="420.00" r="2.65" fill="none" stroke="#b4641e" stroke-width="1.15"/>
<circle cx="285.50" cy="418.80" r="2.65" fill="none" stroke="#b4641e" stroke-width="1.15"/>
<circle cx="333.50" cy="398.00" r="2.65" fill="none" stroke="#b4641e" stroke-width="1.15"/>
<polyline points="63.10,404.80 66.30,406.60 69.50,408.90 72.70,409.50 75.90,408.80 79.10,412.40 82.30,410.90 85.50,410.90 88.70,409.80 91.90,409.30 95.10,408.30 98.30,406.30 101.50,406.80 104.70,403.70 107.90,404.20 112.70,396.80 119.10,396.80 125.50,392.10 131.90,384.50 138.30,382.90 144.70,375.80 151.10,375.20 157.50,367.20 163.90,365.60 170.30,369.70 179.90,359.20 194.30,352.60 211.90,359.20 229.50,361.60 253.50,349.20 285.50,355.30 333.50,383.40" fill="none" stroke="#3ca028" stroke-width="1.05" stroke-dasharray="2.6,2.2"/>
<path d="M144.70,373.30V378.30M143.50,373.30h2.4M143.50,378.30h2.4 M151.10,372.70V377.70M149.90,372.70h2.4M149.90,377.70h2.4 M157.50,364.70V369.70M156.30,364.70h2.4M156.30,369.70h2.4 M163.90,363.10V368.10M162.70,363.10h2.4M162.70,368.10h2.4 M170.30,367.20V372.20M169.10,367.20h2.4M169.10,372.20h2.4 M179.90,356.20V362.20M178.70,356.20h2.4M178.70,362.20h2.4 M194.30,349.60V355.60M193.10,349.60h2.4M193.10,355.60h2.4 M211.90,355.70V362.70M210.70,355.70h2.4M210.70,362.70h2.4 M229.50,356.60V366.60M228.30,356.60h2.4M228.30,366.60h2.4 M253.50,344.20V354.20M252.30,344.20h2.4M252.30,354.20h2.4 M285.50,348.30V362.30M284.30,348.30h2.4M284.30,362.30h2.4 M333.50,375.40V391.40M332.30,375.40h2.4M332.30,391.40h2.4" stroke="#3ca028" stroke-width="1.05" fill="none" stroke-dasharray="2.6,2.2"/>
<rect x="60.55" y="402.25" width="5.1" height="5.1" fill="none" stroke="#3ca028" stroke-width="1.15"/>
<rect x="63.75" y="404.05" width="5.1" height="5.1" fill="none" stroke="#3ca028" stroke-width="1.15"/>
<rect x="66.95" y="406.35" width="5.1" height="5.1" fill="none" stroke="#3ca028" stroke-width="1.15"/>
<rect x="70.15" y="406.95" width="5.1" height="5.1" fill="none" stroke="#3ca028" stroke-width="1.15"/>
<rect x="73.35" y="406.25" width="5.1" height="5.1" fill="none" stroke="#3ca028" stroke-width="1.15"/>
<rect x="76.55" y="409.85" width="5.1" height="5.1" fill="none" stroke="#3ca028" stroke-width="1.15"/>
<rect x="79.75" y="408.35" width="5.1" height="5.1" fill="none" stroke="#3ca028" stroke-width="1.15"/>
<rect x="82.95" y="408.35" width="5.1" height="5.1" fill="none" stroke="#3ca028" stroke-width="1.15"/>
<rect x="86.15" y="407.25" width="5.1" height="5.1" fill="none" stroke="#3ca028" stroke-width="1.15"/>
<rect x="89.35" y="406.75" width="5.1" height="5.1" fill="none" stroke="#3ca028" stroke-width="1.15"/>
<rect x="92.55" y="405.75" width="5.1" height="5.1" fill="none" stroke="#3ca028" stroke-width="1.15"/>
<rect x="95.75" y="403.75" width="5.1" height="5.1" fill="none" stroke="#3ca028" stroke-width="1.15"/>
<rect x="98.95" y="404.25" width="5.1" height="5.1" fill="none" stroke="#3ca028" stroke-width="1.15"/>
<rect x="102.15" y="401.15" width="5.1" height="5.1" fill="none" stroke="#3ca028" stroke-width="1.15"/>
<rect x="105.35" y="401.65" width="5.1" height="5.1" fill="none" stroke="#3ca028" stroke-width="1.15"/>
<rect x="110.15" y="394.25" width="5.1" height="5.1" fill="none" stroke="#3ca028" stroke-width="1.15"/>
<rect x="116.55" y="394.25" width="5.1" height="5.1" fill="none" stroke="#3ca028" stroke-width="1.15"/>
<rect x="122.95" y="389.55" width="5.1" height="5.1" fill="none" stroke="#3ca028" stroke-width="1.15"/>
<rect x="129.35" y="381.95" width="5.1" height="5.1" fill="none" stroke="#3ca028" stroke-width="1.15"/>
<rect x="135.75" y="380.35" width="5.1" height="5.1" fill="none" stroke="#3ca028" stroke-width="1.15"/>
<rect x="142.15" y="373.25" width="5.1" height="5.1" fill="none" stroke="#3ca028" stroke-width="1.15"/>
<rect x="148.55" y="372.65" width="5.1" height="5.1" fill="none" stroke="#3ca028" stroke-width="1.15"/>
<rect x="154.95" y="364.65" width="5.1" height="5.1" fill="none" stroke="#3ca028" stroke-width="1.15"/>
<rect x="161.35" y="363.05" width="5.1" height="5.1" fill="none" stroke="#3ca028" stroke-width="1.15"/>
<rect x="167.75" y="367.15" width="5.1" height="5.1" fill="none" stroke="#3ca028" stroke-width="1.15"/>
<rect x="177.35" y="356.65" width="5.1" height="5.1" fill="none" stroke="#3ca028" stroke-width="1.15"/>
<rect x="191.75" y="350.05" width="5.1" height="5.1" fill="none" stroke="#3ca028" stroke-width="1.15"/>
<rect x="209.35" y="356.65" width="5.1" height="5.1" fill="none" stroke="#3ca028" stroke-width="1.15"/>
<rect x="226.95" y="359.05" width="5.1" height="5.1" fill="none" stroke="#3ca028" stroke-width="1.15"/>
<rect x="250.95" y="346.65" width="5.1" height="5.1" fill="none" stroke="#3ca028" stroke-width="1.15"/>
<rect x="282.95" y="352.75" width="5.1" height="5.1" fill="none" stroke="#3ca028" stroke-width="1.15"/>
<rect x="330.95" y="380.85" width="5.1" height="5.1" fill="none" stroke="#3ca028" stroke-width="1.15"/>
<polyline points="63.10,415.80 66.30,426.20 69.50,438.20 72.70,447.00 75.90,454.70 79.10,456.50 82.30,457.30 85.50,456.00 88.70,452.20 91.90,452.20 95.10,450.90 98.30,450.90 101.50,449.60 104.70,450.40 107.90,448.00 112.70,442.70 119.10,440.20 125.50,441.50 131.90,435.10 138.30,435.10 144.70,425.40 151.10,427.50 157.50,425.40 163.90,425.40 170.30,417.30 179.90,412.20 194.30,409.40 211.90,415.30 229.50,410.50 253.50,388.90 285.50,389.50 333.50,376.00" fill="none" stroke="#0000e6" stroke-width="1.05"/>
<path d="M144.70,422.90V427.90M143.50,422.90h2.4M143.50,427.90h2.4 M151.10,425.00V430.00M149.90,425.00h2.4M149.90,430.00h2.4 M157.50,422.40V428.40M156.30,422.40h2.4M156.30,428.40h2.4 M163.90,422.40V428.40M162.70,422.40h2.4M162.70,428.40h2.4 M170.30,414.30V420.30M169.10,414.30h2.4M169.10,420.30h2.4 M179.90,408.70V415.70M178.70,408.70h2.4M178.70,415.70h2.4 M194.30,405.90V412.90M193.10,405.90h2.4M193.10,412.90h2.4 M211.90,410.80V419.80M210.70,410.80h2.4M210.70,419.80h2.4 M229.50,404.50V416.50M228.30,404.50h2.4M228.30,416.50h2.4 M253.50,382.40V395.40M252.30,382.40h2.4M252.30,395.40h2.4 M285.50,380.50V398.50M284.30,380.50h2.4M284.30,398.50h2.4 M333.50,366.00V386.00M332.30,366.00h2.4M332.30,386.00h2.4" stroke="#0000e6" stroke-width="1.05" fill="none"/>
<path d="M63.10,412.80 L66.00,418.20 L60.20,418.20 Z" fill="#0000e6"/>
<path d="M66.30,423.20 L69.20,428.60 L63.40,428.60 Z" fill="#0000e6"/>
<path d="M69.50,435.20 L72.40,440.60 L66.60,440.60 Z" fill="#0000e6"/>
<path d="M72.70,444.00 L75.60,449.40 L69.80,449.40 Z" fill="#0000e6"/>
<path d="M75.90,451.70 L78.80,457.10 L73.00,457.10 Z" fill="#0000e6"/>
<path d="M79.10,453.50 L82.00,458.90 L76.20,458.90 Z" fill="#0000e6"/>
<path d="M82.30,454.30 L85.20,459.70 L79.40,459.70 Z" fill="#0000e6"/>
<path d="M85.50,453.00 L88.40,458.40 L82.60,458.40 Z" fill="#0000e6"/>
<path d="M88.70,449.20 L91.60,454.60 L85.80,454.60 Z" fill="#0000e6"/>
<path d="M91.90,449.20 L94.80,454.60 L89.00,454.60 Z" fill="#0000e6"/>
<path d="M95.10,447.90 L98.00,453.30 L92.20,453.30 Z" fill="#0000e6"/>
<path d="M98.30,447.90 L101.20,453.30 L95.40,453.30 Z" fill="#0000e6"/>
<path d="M101.50,446.60 L104.40,452.00 L98.60,452.00 Z" fill="#0000e6"/>
<path d="M104.70,447.40 L107.60,452.80 L101.80,452.80 Z" fill="#0000e6"/>
<path d="M107.90,445.00 L110.80,450.40 L105.00,450.40 Z" fill="#0000e6"/>
<path d="M112.70,439.70 L115.60,445.10 L109.80,445.10 Z" fill="#0000e6"/>
<path d="M119.10,437.20 L122.00,442.60 L116.20,442.60 Z" fill="#0000e6"/>
<path d="M125.50,438.50 L128.40,443.90 L122.60,443.90 Z" fill="#0000e6"/>
<path d="M131.90,432.10 L134.80,437.50 L129.00,437.50 Z" fill="#0000e6"/>
<path d="M138.30,432.10 L141.20,437.50 L135.40,437.50 Z" fill="#0000e6"/>
<path d="M144.70,422.40 L147.60,427.80 L141.80,427.80 Z" fill="#0000e6"/>
<path d="M151.10,424.50 L154.00,429.90 L148.20,429.90 Z" fill="#0000e6"/>
<path d="M157.50,422.40 L160.40,427.80 L154.60,427.80 Z" fill="#0000e6"/>
<path d="M163.90,422.40 L166.80,427.80 L161.00,427.80 Z" fill="#0000e6"/>
<path d="M170.30,414.30 L173.20,419.70 L167.40,419.70 Z" fill="#0000e6"/>
<path d="M179.90,409.20 L182.80,414.60 L177.00,414.60 Z" fill="#0000e6"/>
<path d="M194.30,406.40 L197.20,411.80 L191.40,411.80 Z" fill="#0000e6"/>
<path d="M211.90,412.30 L214.80,417.70 L209.00,417.70 Z" fill="#0000e6"/>
<path d="M229.50,407.50 L232.40,412.90 L226.60,412.90 Z" fill="#0000e6"/>
<path d="M253.50,385.90 L256.40,391.30 L250.60,391.30 Z" fill="#0000e6"/>
<path d="M285.50,386.50 L288.40,391.90 L282.60,391.90 Z" fill="#0000e6"/>
<path d="M333.50,373.00 L336.40,378.40 L330.60,378.40 Z" fill="#0000e6"/>
<polyline points="63.10,425.40 66.30,435.60 69.50,445.80 72.70,453.40 75.90,461.10 79.10,466.70 82.30,465.60 85.50,463.60 88.70,466.70 91.90,463.10 95.10,463.60 98.30,465.60 101.50,464.90 104.70,461.10 107.90,461.00 112.70,459.80 119.10,460.60 125.50,461.10 131.90,460.60 138.30,458.00 144.70,455.50 151.10,458.00 157.50,459.00 163.90,450.90 170.30,454.70 179.90,455.50 194.30,452.20 211.90,459.80 229.50,457.80 253.50,440.50 285.50,425.50 333.50,430.10" fill="none" stroke="#1a9bbe" stroke-width="1.05" stroke-dasharray="3.7,1.8,1.0,1.4"/>
<path d="M144.70,452.00V459.00M143.50,452.00h2.4M143.50,459.00h2.4 M151.10,454.50V461.50M149.90,454.50h2.4M149.90,461.50h2.4 M157.50,455.00V463.00M156.30,455.00h2.4M156.30,463.00h2.4 M163.90,446.90V454.90M162.70,446.90h2.4M162.70,454.90h2.4 M170.30,450.20V459.20M169.10,450.20h2.4M169.10,459.20h2.4 M179.90,451.00V460.00M178.70,451.00h2.4M178.70,460.00h2.4 M194.30,447.70V456.70M193.10,447.70h2.4M193.10,456.70h2.4 M211.90,454.80V464.80M210.70,454.80h2.4M210.70,464.80h2.4 M229.50,451.80V463.80M228.30,451.80h2.4M228.30,463.80h2.4 M253.50,433.00V448.00M252.30,433.00h2.4M252.30,448.00h2.4 M285.50,416.50V434.50M284.30,416.50h2.4M284.30,434.50h2.4 M333.50,419.10V441.10M332.30,419.10h2.4M332.30,441.10h2.4" stroke="#1a9bbe" stroke-width="1.05" fill="none" stroke-dasharray="3.7,1.8,1.0,1.4"/>
<path d="M63.10,428.40 L66.00,423.00 L60.20,423.00 Z" fill="#1a9bbe"/>
<path d="M66.30,438.60 L69.20,433.20 L63.40,433.20 Z" fill="#1a9bbe"/>
<path d="M69.50,448.80 L72.40,443.40 L66.60,443.40 Z" fill="#1a9bbe"/>
<path d="M72.70,456.40 L75.60,451.00 L69.80,451.00 Z" fill="#1a9bbe"/>
<path d="M75.90,464.10 L78.80,458.70 L73.00,458.70 Z" fill="#1a9bbe"/>
<path d="M79.10,469.70 L82.00,464.30 L76.20,464.30 Z" fill="#1a9bbe"/>
<path d="M82.30,468.60 L85.20,463.20 L79.40,463.20 Z" fill="#1a9bbe"/>
<path d="M85.50,466.60 L88.40,461.20 L82.60,461.20 Z" fill="#1a9bbe"/>
<path d="M88.70,469.70 L91.60,464.30 L85.80,464.30 Z" fill="#1a9bbe"/>
<path d="M91.90,466.10 L94.80,460.70 L89.00,460.70 Z" fill="#1a9bbe"/>
<path d="M95.10,466.60 L98.00,461.20 L92.20,461.20 Z" fill="#1a9bbe"/>
<path d="M98.30,468.60 L101.20,463.20 L95.40,463.20 Z" fill="#1a9bbe"/>
<path d="M101.50,467.90 L104.40,462.50 L98.60,462.50 Z" fill="#1a9bbe"/>
<path d="M104.70,464.10 L107.60,458.70 L101.80,458.70 Z" fill="#1a9bbe"/>
<path d="M107.90,464.00 L110.80,458.60 L105.00,458.60 Z" fill="#1a9bbe"/>
<path d="M112.70,462.80 L115.60,457.40 L109.80,457.40 Z" fill="#1a9bbe"/>
<path d="M119.10,463.60 L122.00,458.20 L116.20,458.20 Z" fill="#1a9bbe"/>
<path d="M125.50,464.10 L128.40,458.70 L122.60,458.70 Z" fill="#1a9bbe"/>
<path d="M131.90,463.60 L134.80,458.20 L129.00,458.20 Z" fill="#1a9bbe"/>
<path d="M138.30,461.00 L141.20,455.60 L135.40,455.60 Z" fill="#1a9bbe"/>
<path d="M144.70,458.50 L147.60,453.10 L141.80,453.10 Z" fill="#1a9bbe"/>
<path d="M151.10,461.00 L154.00,455.60 L148.20,455.60 Z" fill="#1a9bbe"/>
<path d="M157.50,462.00 L160.40,456.60 L154.60,456.60 Z" fill="#1a9bbe"/>
<path d="M163.90,453.90 L166.80,448.50 L161.00,448.50 Z" fill="#1a9bbe"/>
<path d="M170.30,457.70 L173.20,452.30 L167.40,452.30 Z" fill="#1a9bbe"/>
<path d="M179.90,458.50 L182.80,453.10 L177.00,453.10 Z" fill="#1a9bbe"/>
<path d="M194.30,455.20 L197.20,449.80 L191.40,449.80 Z" fill="#1a9bbe"/>
<path d="M211.90,462.80 L214.80,457.40 L209.00,457.40 Z" fill="#1a9bbe"/>
<path d="M229.50,460.80 L232.40,455.40 L226.60,455.40 Z" fill="#1a9bbe"/>
<path d="M253.50,443.50 L256.40,438.10 L250.60,438.10 Z" fill="#1a9bbe"/>
<path d="M285.50,428.50 L288.40,423.10 L282.60,423.10 Z" fill="#1a9bbe"/>
<path d="M333.50,433.10 L336.40,427.70 L330.60,427.70 Z" fill="#1a9bbe"/>
<polyline points="63.10,506.21 66.30,522.01 69.50,535.10 72.70,544.13 75.90,552.71 79.10,559.48 82.30,562.42 85.50,566.71 88.70,575.51 91.90,578.67 95.10,587.25 98.30,589.05 101.50,589.51 104.70,589.05 107.90,586.80 112.70,578.44 119.10,572.12 125.50,562.19 131.90,550.90 138.30,540.07 144.70,539.17 151.10,523.82 157.50,503.05 163.90,512.08 170.30,510.27 179.90,488.60 194.30,483.00 211.90,472.00 229.50,438.50 253.50,427.00 285.50,385.20 333.50,402.60" fill="none" stroke="#ff0000" stroke-width="1.05" stroke-dasharray="1.3,1.2"/>
<path d="M144.70,537.17V541.17M143.50,537.17h2.4M143.50,541.17h2.4 M151.10,521.82V525.82M149.90,521.82h2.4M149.90,525.82h2.4 M157.50,501.05V505.05M156.30,501.05h2.4M156.30,505.05h2.4 M163.90,510.08V514.08M162.70,510.08h2.4M162.70,514.08h2.4 M170.30,508.27V512.27M169.10,508.27h2.4M169.10,512.27h2.4 M179.90,484.60V492.60M178.70,484.60h2.4M178.70,492.60h2.4 M194.30,478.00V488.00M193.10,478.00h2.4M193.10,488.00h2.4 M211.90,466.00V478.00M210.70,466.00h2.4M210.70,478.00h2.4 M229.50,430.50V446.50M228.30,430.50h2.4M228.30,446.50h2.4 M253.50,417.00V437.00M252.30,417.00h2.4M252.30,437.00h2.4 M285.50,373.20V397.20M284.30,373.20h2.4M284.30,397.20h2.4 M333.50,390.60V414.60M332.30,390.60h2.4M332.30,414.60h2.4" stroke="#ff0000" stroke-width="1.05" fill="none" stroke-dasharray="1.3,1.2"/>
<path d="M63.10,502.91 L65.20,506.21 L63.10,509.51 L61.00,506.21 Z" fill="#ff0000"/>
<path d="M66.30,518.71 L68.40,522.01 L66.30,525.31 L64.20,522.01 Z" fill="#ff0000"/>
<path d="M69.50,531.80 L71.60,535.10 L69.50,538.40 L67.40,535.10 Z" fill="#ff0000"/>
<path d="M72.70,540.83 L74.80,544.13 L72.70,547.43 L70.60,544.13 Z" fill="#ff0000"/>
<path d="M75.90,549.41 L78.00,552.71 L75.90,556.01 L73.80,552.71 Z" fill="#ff0000"/>
<path d="M79.10,556.18 L81.20,559.48 L79.10,562.78 L77.00,559.48 Z" fill="#ff0000"/>
<path d="M82.30,559.12 L84.40,562.42 L82.30,565.72 L80.20,562.42 Z" fill="#ff0000"/>
<path d="M85.50,563.41 L87.60,566.71 L85.50,570.01 L83.40,566.71 Z" fill="#ff0000"/>
<path d="M88.70,572.21 L90.80,575.51 L88.70,578.81 L86.60,575.51 Z" fill="#ff0000"/>
<path d="M91.90,575.37 L94.00,578.67 L91.90,581.97 L89.80,578.67 Z" fill="#ff0000"/>
<path d="M95.10,583.95 L97.20,587.25 L95.10,590.55 L93.00,587.25 Z" fill="#ff0000"/>
<path d="M98.30,585.75 L100.40,589.05 L98.30,592.35 L96.20,589.05 Z" fill="#ff0000"/>
<path d="M101.50,586.21 L103.60,589.51 L101.50,592.81 L99.40,589.51 Z" fill="#ff0000"/>
<path d="M104.70,585.75 L106.80,589.05 L104.70,592.35 L102.60,589.05 Z" fill="#ff0000"/>
<path d="M107.90,583.50 L110.00,586.80 L107.90,590.10 L105.80,586.80 Z" fill="#ff0000"/>
<path d="M112.70,575.14 L114.80,578.44 L112.70,581.74 L110.60,578.44 Z" fill="#ff0000"/>
<path d="M119.10,568.82 L121.20,572.12 L119.10,575.42 L117.00,572.12 Z" fill="#ff0000"/>
<path d="M125.50,558.89 L127.60,562.19 L125.50,565.49 L123.40,562.19 Z" fill="#ff0000"/>
<path d="M131.90,547.60 L134.00,550.90 L131.90,554.20 L129.80,550.90 Z" fill="#ff0000"/>
<path d="M138.30,536.77 L140.40,540.07 L138.30,543.37 L136.20,540.07 Z" fill="#ff0000"/>
<path d="M144.70,535.87 L146.80,539.17 L144.70,542.47 L142.60,539.17 Z" fill="#ff0000"/>
<path d="M151.10,520.52 L153.20,523.82 L151.10,527.12 L149.00,523.82 Z" fill="#ff0000"/>
<path d="M157.50,499.75 L159.60,503.05 L157.50,506.35 L155.40,503.05 Z" fill="#ff0000"/>
<path d="M163.90,508.78 L166.00,512.08 L163.90,515.38 L161.80,512.08 Z" fill="#ff0000"/>
<path d="M170.30,506.97 L172.40,510.27 L170.30,513.57 L168.20,510.27 Z" fill="#ff0000"/>
<path d="M179.90,485.30 L182.00,488.60 L179.90,491.90 L177.80,488.60 Z" fill="#ff0000"/>
<path d="M194.30,479.70 L196.40,483.00 L194.30,486.30 L192.20,483.00 Z" fill="#ff0000"/>
<path d="M211.90,468.70 L214.00,472.00 L211.90,475.30 L209.80,472.00 Z" fill="#ff0000"/>
<path d="M229.50,435.20 L231.60,438.50 L229.50,441.80 L227.40,438.50 Z" fill="#ff0000"/>
<path d="M253.50,423.70 L255.60,427.00 L253.50,430.30 L251.40,427.00 Z" fill="#ff0000"/>
<path d="M285.50,381.90 L287.60,385.20 L285.50,388.50 L283.40,385.20 Z" fill="#ff0000"/>
<path d="M333.50,399.30 L335.60,402.60 L333.50,405.90 L331.40,402.60 Z" fill="#ff0000"/>
</g>
<circle cx="82.30" cy="476.50" r="2.65" fill="none" stroke="#b4641e" stroke-width="1.15"/>
<circle cx="170.30" cy="475.60" r="2.65" fill="none" stroke="#b4641e" stroke-width="1.15"/>
<rect x="73.35" y="208.45" width="5.7" height="5.7" fill="#000"/>
<text x="94.2" y="214.10" font-size="9.4">ALICE</text>
<line x1="64" y1="224.22" x2="88.8" y2="224.22" stroke="#b4641e" stroke-width="1.45" stroke-dasharray="3.2,1.8"/>
<circle cx="76.50" cy="224.22" r="2.65" fill="none" stroke="#b4641e" stroke-width="1.15"/>
<text x="94.2" y="227.02" font-size="9.4">Herwig++ 2.7.1 default</text>
<line x1="64" y1="237.14" x2="88.8" y2="237.14" stroke="#3ca028" stroke-width="1.45" stroke-dasharray="2.6,2.2"/>
<rect x="73.95" y="234.59" width="5.1" height="5.1" fill="none" stroke="#3ca028" stroke-width="1.15"/>
<text x="94.2" y="239.94" font-size="9.4">Herwig 7.2.1 default</text>
<line x1="64" y1="250.06" x2="88.8" y2="250.06" stroke="#0000e6" stroke-width="1.45"/>
<path d="M76.50,247.06 L79.40,252.46 L73.60,252.46 Z" fill="#0000e6"/>
<text x="94.2" y="252.86" font-size="9.4">Pythia 8.315 default</text>
<line x1="64" y1="262.98" x2="88.8" y2="262.98" stroke="#1a9bbe" stroke-width="1.45" stroke-dasharray="3.7,1.8,1.0,1.4"/>
<path d="M76.50,265.98 L79.40,260.58 L73.60,260.58 Z" fill="#1a9bbe"/>
<text x="94.2" y="265.78" font-size="9.4">Pythia 8.315 vincia-default</text>
<line x1="64" y1="275.90" x2="88.8" y2="275.90" stroke="#ff0000" stroke-width="1.45" stroke-dasharray="1.3,1.2"/>
<path d="M76.50,272.60 L78.60,275.90 L76.50,279.20 L74.40,275.90 Z" fill="#ff0000"/>
<text x="94.2" y="278.70" font-size="9.4">Sherpa 2.2.9 default</text>
</svg></body></html>
